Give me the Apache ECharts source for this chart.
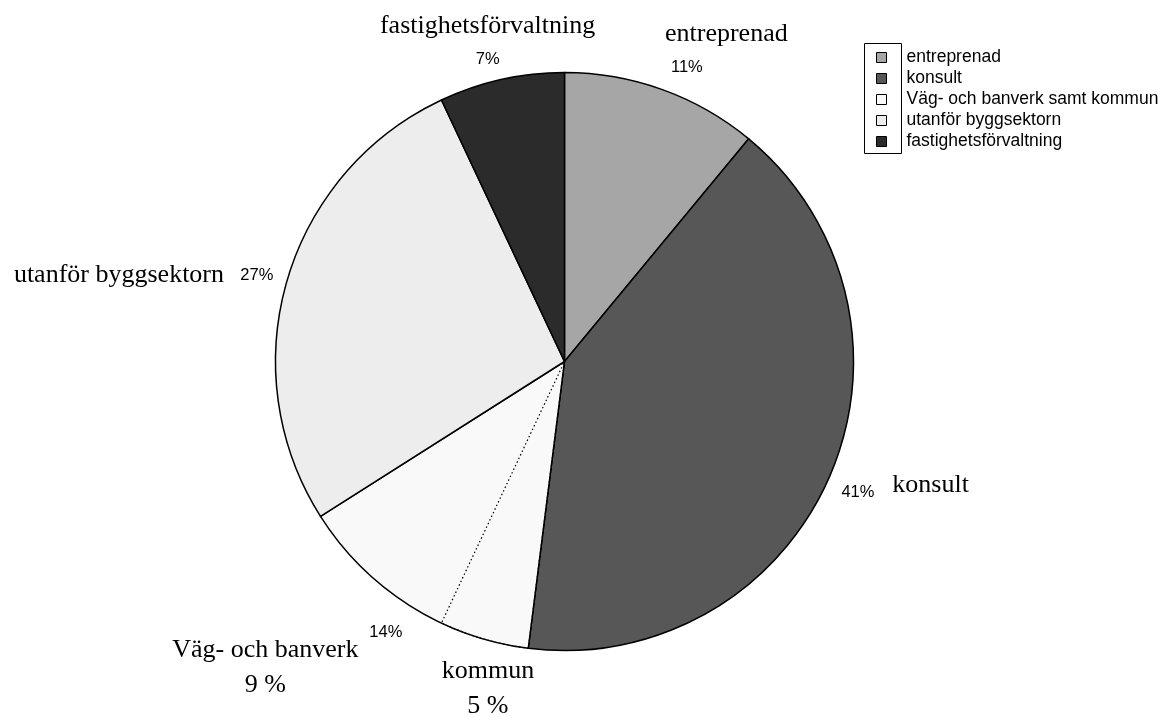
<!DOCTYPE html>
<html>
<head>
<meta charset="utf-8">
<script src="https://cdn.jsdelivr.net/npm/echarts@6/dist/echarts.min.js"></script>
<style>
  html, body { margin: 0; padding: 0; background: #fff; }
  #chart { width: 1165px; height: 718px; }
</style>
</head>
<body>
<div id="chart"></div>
<script>
// Sector shares (percent), clockwise from 12 o'clock
const categories = ['entreprenad', 'konsult', 'Väg- och banverk samt kommun', 'utanför byggsektorn', 'fastighetsförvaltning'];
const shares = [11, 41, 14, 27, 7];
const sliceColors = ['#a6a6a6', '#575757', '#f9f9f9', '#ededed', '#2b2b2b'];

// Same circle split finer: the 14 % sector is divided into kommun and Väg- och banverk
const detailNames = ['entreprenad', 'konsult', 'kommun', 'Väg- och banverk', 'utanför byggsektorn', 'fastighetsförvaltning'];
const detailShares = [11, 41, 5, 9, 27, 7];
const splitParts = ['kommun', 'Väg- och banverk'];

const SANS = '"Liberation Sans", Arial, sans-serif';
const SERIF = '"Liberation Serif", "Times New Roman", serif';

// label nudges (dx, dy) relative to the library's outside anchor
const pctNudge = [[17, -1], [8, 7], [-12, 8], [-9, 1], [-9, 1]];
const nameNudge = [[47, -8], [55, -11], [18, 2], [-75, 52], [-120, 8], [-3, -4]];

const center = [564.5, 361.5];
const radius = 289;

const chart = echarts.init(document.getElementById('chart'), null, { renderer: 'canvas' });

chart.setOption({
  backgroundColor: '#ffffff',
  animation: false,
  legend: {
    orient: 'vertical',
    left: 876,
    top: 47,
    padding: 0,
    itemGap: 0,
    itemWidth: 10,
    itemHeight: 10,
    icon: 'rect',
    data: categories,
    selectedMode: false,
    itemStyle: { borderWidth: 1, borderColor: '#000' },
    textStyle: {
      fontFamily: SANS,
      fontSize: 17.5,
      color: '#000',
      lineHeight: 21,
      padding: [0, 0, 0, 15]
    }
  },
  graphic: [{
    type: 'rect',
    shape: { x: 864.5, y: 43.5, width: 37, height: 110 },
    style: { fill: 'none', stroke: '#000', lineWidth: 1 },
    silent: true
  }],
  series: [
    {
      type: 'pie',
      name: 'andel',
      center: center,
      radius: radius,
      startAngle: 90,
      clockwise: true,
      avoidLabelOverlap: false,
      silent: true,
      emphasis: { disabled: true },
      itemStyle: { borderColor: '#000', borderWidth: 1.5 },
      label: {
        show: true,
        position: 'outside',
        distanceToLabelLine: 0,
        fontFamily: SANS,
        fontSize: 16.5,
        color: '#000',
        formatter: p => p.value + '%'
      },
      labelLine: { show: false, length: 22, length2: 0 },
      labelLayout: p => ({
        align: 'center',
        verticalAlign: 'middle',
        dx: pctNudge[p.dataIndex][0],
        dy: pctNudge[p.dataIndex][1]
      }),
      data: categories.map((n, i) => ({
        name: n,
        value: shares[i],
        itemStyle: { color: sliceColors[i] }
      }))
    },
    {
      type: 'pie',
      name: 'delar',
      center: center,
      radius: radius,
      startAngle: 90,
      clockwise: true,
      avoidLabelOverlap: false,
      silent: true,
      emphasis: { disabled: true },
      z: 3,
      itemStyle: { color: 'rgba(0,0,0,0)', borderWidth: 0 },
      label: {
        show: true,
        position: 'outside',
        distanceToLabelLine: 0,
        fontFamily: SERIF,
        fontSize: 26,
        lineHeight: 35,
        color: '#000',
        formatter: p => splitParts.includes(p.name) ? p.name + '\n' + p.value + ' %' : p.name
      },
      labelLine: { show: false, length: 50, length2: 0 },
      labelLayout: p => ({
        align: 'center',
        verticalAlign: 'middle',
        dx: nameNudge[p.dataIndex][0],
        dy: nameNudge[p.dataIndex][1]
      }),
      data: detailNames.map((n, i) => ({
        name: n,
        value: detailShares[i],
        itemStyle: n === splitParts[0]
          ? { color: 'rgba(0,0,0,0)', borderColor: '#000', borderWidth: 1.2, borderType: [1.5, 2.5] }
          : { color: 'rgba(0,0,0,0)', borderWidth: 0 }
      }))
    }
  ]
});
</script>
</body>
</html>
